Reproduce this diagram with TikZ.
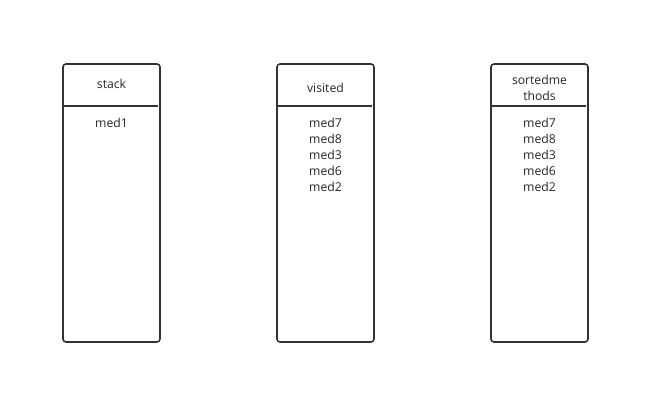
\documentclass[tikz,border=0pt]{standalone}
\usepackage{fontspec}
\setmainfont{Open Sans}
\begin{document}
\begin{tikzpicture}[x=1pt,y=-1pt,
  box/.style={draw=black!80, line width=1.6pt, rounded corners=3pt, minimum width=97pt, minimum height=278pt, inner sep=0pt, outer sep=0pt},
  hline/.style={draw=black!80, line width=1.6pt},
  lbl/.style={font=\fontsize{12.2}{16}\selectfont, text=black!85, align=center, inner sep=0pt}]
\useasboundingbox (0,0) rectangle (649,404);
\node[box] (b1) at (111.5,203) {};
\node[box] (b2) at (325.5,203) {};
\node[box] (b3) at (539.5,203) {};
\draw[hline] (b1.west |- 0,106) -- (158,106);
\draw[hline] (b2.west |- 0,106) -- (372,106);
\draw[hline] (b3.west |- 0,106) -- (586,106);
\node[lbl] (t1) at (111.5,83.5) {stack};
\node[lbl] (t2) at (325.5,87.5) {visited};
\node[lbl] (t3) at (539.5,87.5) {sortedme\\thods};
\node[lbl, anchor=north] (l1) at (111.5,118) {med1};
\node[lbl, anchor=north] (l2) at (325.5,118) {med7\\med8\\med3\\med6\\med2};
\node[lbl, anchor=north] (l3) at (539.5,118) {med7\\med8\\med3\\med6\\med2};
\end{tikzpicture}
\end{document}
